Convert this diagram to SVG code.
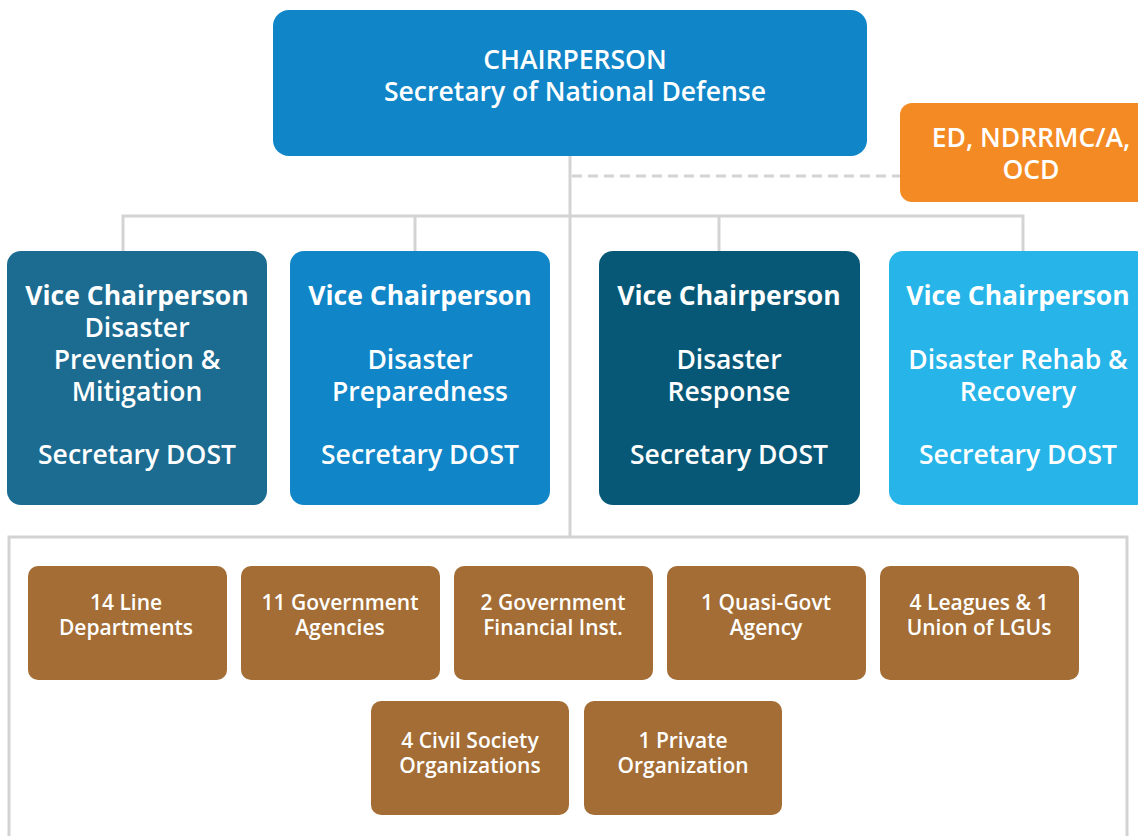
<svg xmlns="http://www.w3.org/2000/svg" width="1138" height="836" viewBox="0 0 1138 836">
<style>
.t{font-family:"Open Sans","Noto Sans","DejaVu Sans",sans-serif;fill:#fff;text-anchor:middle}
.big{font-size:26.5px;font-weight:600}
.b{font-weight:700}
.sm{font-size:21px;font-weight:600}
.ln{stroke:#d3d3d3;stroke-width:3;fill:none}
.brown{fill:#A36D35}
</style>
<rect width="1138" height="836" fill="#fff"/>
<g id="connectors">
<path class="ln" d="M570 156 V537"/>
<path class="ln" d="M572 176 H900" stroke-dasharray="10 6"/>
<path class="ln" d="M123 251 V216 H1023 V251 M415 216 V251 M719 216 V251"/>
<rect class="ln" x="9" y="537" width="1118" height="320"/>
</g>
<g id="chair">
<rect x="273" y="10" width="594" height="146" rx="16" fill="#1086C8"/>
<text class="t big" x="575" y="69">CHAIRPERSON</text>
<text class="t big" x="575" y="101">Secretary of National Defense</text>
</g>
<g id="ed">
<rect x="900" y="103" width="262" height="99" rx="12" fill="#F48A24"/>
<text class="t big" x="1031" y="147">ED, NDRRMC/A,</text>
<text class="t big" x="1031" y="179">OCD</text>
</g>
<g id="vc1">
<rect x="7" y="251" width="260" height="254" rx="14" fill="#1C6B91"/>
<text class="t big b" x="137" y="305">Vice Chairperson</text>
<text class="t big" x="137" y="337">Disaster</text>
<text class="t big" x="137" y="369">Prevention &amp;</text>
<text class="t big" x="137" y="401">Mitigation</text>
<text class="t big" x="137" y="464">Secretary DOST</text>
</g>
<g id="vc2">
<rect x="290" y="251" width="260" height="254" rx="14" fill="#1086C8"/>
<text class="t big b" x="420" y="305">Vice Chairperson</text>
<text class="t big" x="420" y="369">Disaster</text>
<text class="t big" x="420" y="401">Preparedness</text>
<text class="t big" x="420" y="464">Secretary DOST</text>
</g>
<g id="vc3">
<rect x="599" y="251" width="261" height="254" rx="14" fill="#075877"/>
<text class="t big b" x="729" y="305">Vice Chairperson</text>
<text class="t big" x="729" y="369">Disaster</text>
<text class="t big" x="729" y="401">Response</text>
<text class="t big" x="729" y="464">Secretary DOST</text>
</g>
<g id="vc4">
<rect x="889" y="251" width="260" height="254" rx="14" fill="#26B4E9"/>
<text class="t big b" x="1018" y="305">Vice Chairperson</text>
<text class="t big" x="1018" y="369">Disaster Rehab &amp;</text>
<text class="t big" x="1018" y="401">Recovery</text>
<text class="t big" x="1018" y="464">Secretary DOST</text>
</g>
<g id="m1"><rect class="brown" x="28" y="566" width="199" height="114" rx="10"/>
<text class="t sm" x="126" y="610">14 Line</text><text class="t sm" x="126" y="635">Departments</text></g>
<g id="m2"><rect class="brown" x="241" y="566" width="199" height="114" rx="10"/>
<text class="t sm" x="340" y="610">11 Government</text><text class="t sm" x="340" y="635">Agencies</text></g>
<g id="m3"><rect class="brown" x="454" y="566" width="199" height="114" rx="10"/>
<text class="t sm" x="553" y="610">2 Government</text><text class="t sm" x="553" y="635">Financial Inst.</text></g>
<g id="m4"><rect class="brown" x="667" y="566" width="199" height="114" rx="10"/>
<text class="t sm" x="766" y="610">1 Quasi-Govt</text><text class="t sm" x="766" y="635">Agency</text></g>
<g id="m5"><rect class="brown" x="880" y="566" width="199" height="114" rx="10"/>
<text class="t sm" x="979" y="610">4 Leagues &amp; 1</text><text class="t sm" x="979" y="635">Union of LGUs</text></g>
<g id="m6"><rect class="brown" x="371" y="701" width="198" height="114" rx="10"/>
<text class="t sm" x="470" y="748">4 Civil Society</text><text class="t sm" x="470" y="773">Organizations</text></g>
<g id="m7"><rect class="brown" x="584" y="701" width="198" height="114" rx="10"/>
<text class="t sm" x="683" y="748">1 Private</text><text class="t sm" x="683" y="773">Organization</text></g>
</svg>
